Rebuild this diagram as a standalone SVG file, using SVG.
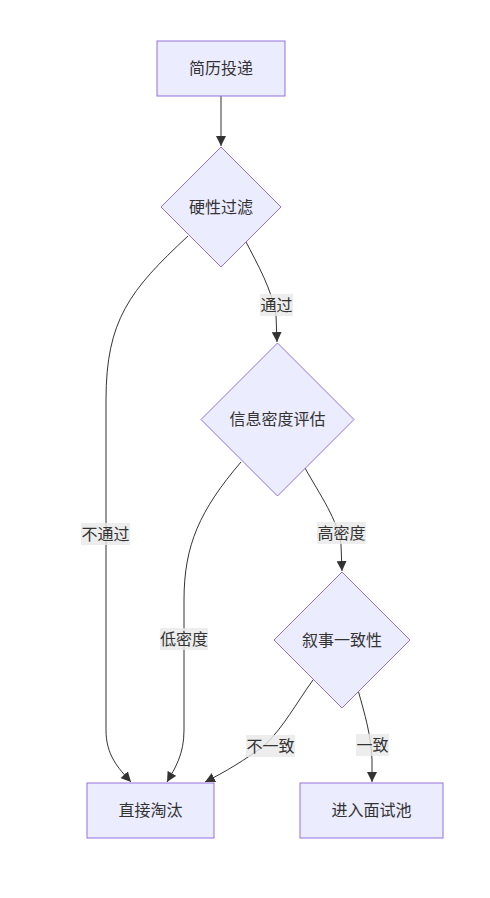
<svg xmlns="http://www.w3.org/2000/svg" width="490" height="898" viewBox="0 0 490 898">
<style>
.node{fill:#ECECFF;stroke:#9370DB;stroke-width:1}
.t{font-family:"Liberation Sans","Noto Sans CJK SC",sans-serif;font-size:16px;fill:#333;text-anchor:middle;dominant-baseline:central}
.e{fill:none;stroke:#333;stroke-width:1}
.lb{fill:#E8E8E8;fill-opacity:0.8}
</style>
<defs>
<marker id="arr" viewBox="0 0 10 10" refX="10" refY="5" markerWidth="10" markerHeight="10" markerUnits="userSpaceOnUse" orient="auto">
<path d="M0,0 L10,5 L0,10 z" fill="#333"/>
</marker>
</defs>
<rect width="490" height="898" fill="#fff"/>
<g id="edges">
<path class="e" d="M221,96 L221,146" marker-end="url(#arr)"/>
<path class="e" d="M188,236 C130,290 106,320 106,400 L106,730 C106,755 118,768 131,782" marker-end="url(#arr)"/>
<path class="e" d="M245,240 C258,265 272,290 276,315 L277,342" marker-end="url(#arr)"/>
<path class="e" d="M241,462 C200,510 184,545 184,600 L184,730 C184,755 175,768 167,782" marker-end="url(#arr)"/>
<path class="e" d="M305,468 C320,495 338,520 341,545 L342,571" marker-end="url(#arr)"/>
<path class="e" d="M313,680 C295,705 285,725 265,745 C245,760 225,772 205,782" marker-end="url(#arr)"/>
<path class="e" d="M358,690 C365,715 371,735 372,760 L372,782" marker-end="url(#arr)"/>
</g>
<g id="edge-labels">
<g id="l1"><rect class="lb" x="260" y="294" width="33" height="22"/><text class="t" x="276.5" y="305">通过</text></g>
<g id="l2"><rect class="lb" x="81" y="523" width="49" height="22"/><text class="t" x="105.5" y="534">不通过</text></g>
<g id="l3"><rect class="lb" x="160" y="628" width="48" height="22"/><text class="t" x="184" y="639">低密度</text></g>
<g id="l4"><rect class="lb" x="317" y="522" width="49" height="22"/><text class="t" x="341.5" y="533">高密度</text></g>
<g id="l5"><rect class="lb" x="246" y="735" width="49" height="22"/><text class="t" x="270.5" y="746">不一致</text></g>
<g id="l6"><rect class="lb" x="356" y="734" width="33" height="22"/><text class="t" x="372.5" y="745">一致</text></g>
</g>
<g id="n1"><rect class="node" x="157" y="41" width="128" height="55"/><text class="t" x="221" y="68.5">简历投递</text></g>
<g id="n2"><polygon class="node" points="221,147 281,207 221,267 161,207"/><text class="t" x="221" y="207">硬性过滤</text></g>
<g id="n3"><polygon class="node" points="277.5,343 354,419.5 277.5,496 201,419.5"/><text class="t" x="277.5" y="419.5">信息密度评估</text></g>
<g id="n4"><polygon class="node" points="342,572 410,640 342,708 274,640"/><text class="t" x="342" y="640">叙事一致性</text></g>
<g id="n5"><rect class="node" x="87" y="783" width="127" height="55"/><text class="t" x="150.5" y="810.5">直接淘汰</text></g>
<g id="n6"><rect class="node" x="300" y="783" width="143" height="55"/><text class="t" x="371.5" y="810.5">进入面试池</text></g>
</svg>
